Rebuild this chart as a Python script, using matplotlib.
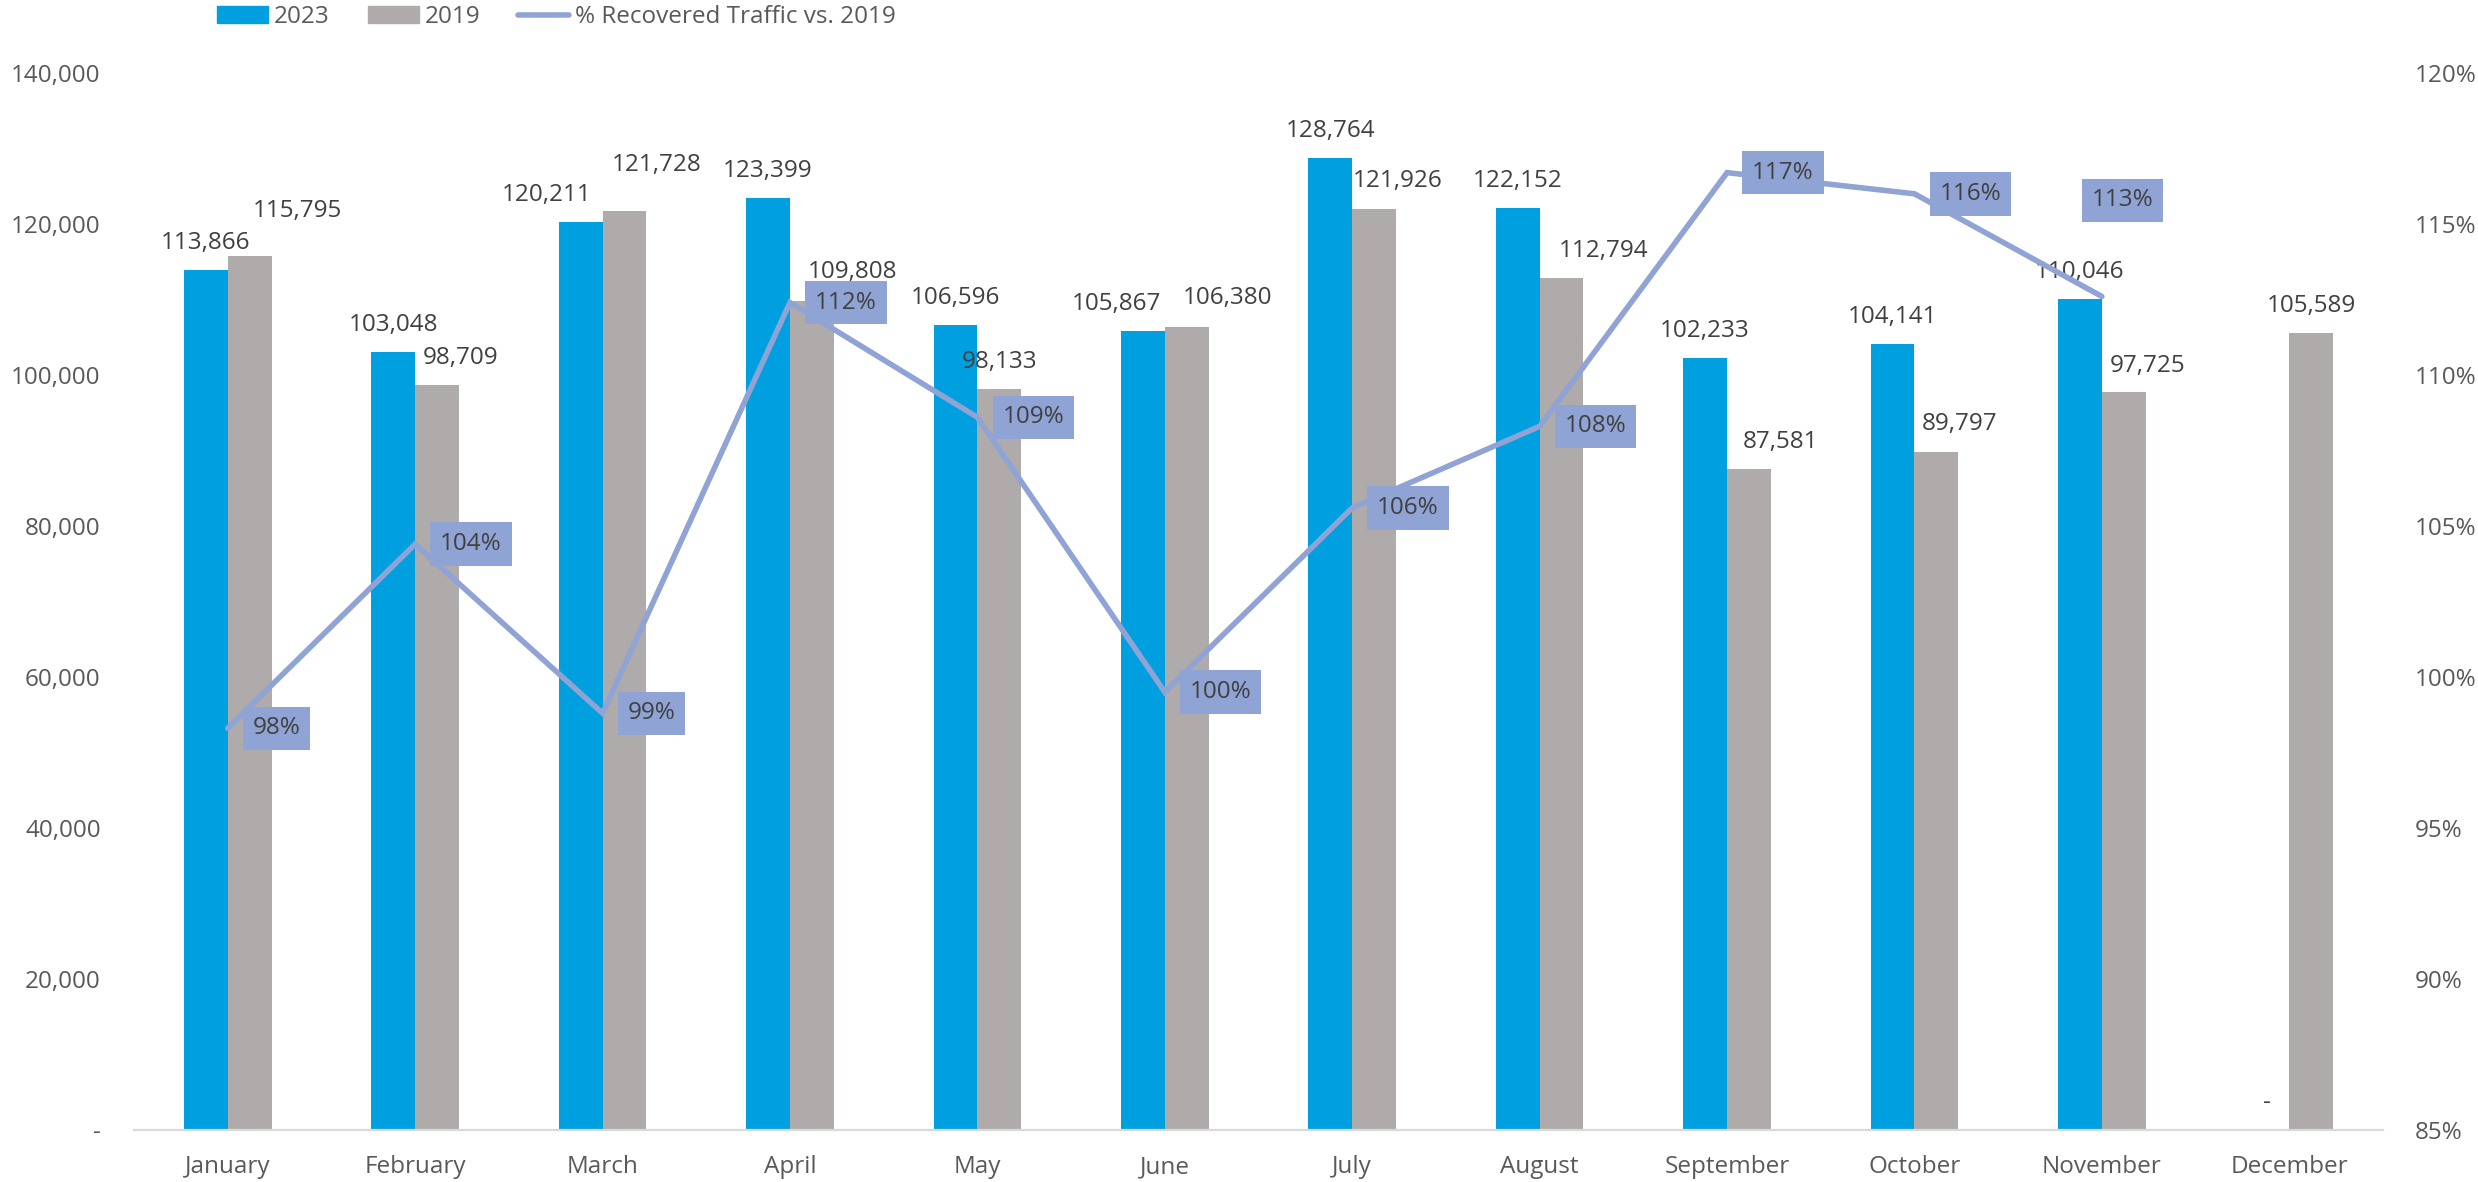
import matplotlib
matplotlib.use("Agg")
import matplotlib.pyplot as plt
from matplotlib.patches import Patch
from matplotlib.lines import Line2D

# ---------------------------
# data
# ---------------------------
months = ["January", "February", "March", "April", "May", "June", "July",
          "August", "September", "October", "November", "December"]
traffic_2023 = [113866, 103048, 120211, 123399, 106596, 105867, 128764,
                122152, 102233, 104141, 110046, 0]
traffic_2019 = [115795, 98709, 121728, 109808, 98133, 106380, 121926,
                112794, 87581, 89797, 97725, 105589]
recovered = [0.983, 1.044, 0.988, 1.124, 1.086, 0.995, 1.056, 1.083,
             1.167, 1.160, 1.126]
left_ticks = [0, 20000, 40000, 60000, 80000, 100000, 120000, 140000]
right_ticks = [0.85, 0.90, 0.95, 1.00, 1.05, 1.10, 1.15, 1.20]

# label nudges (pixels) - hand placed in the original
blue_dx = [0, 0, -34, 0, 0, -26, 0, 0, 0, 0, 0, 0]
gray_dx = [48, 24, 32, 41, 0, 41, 24, 42, 32, 23, 24, 0]
gray_dy = [45, 27, 46, 29, 27, 29, 28, 27, 27, 28, 26, 27]

C_BLUE = "#009FDF"
C_GRAY = "#AFABAB"
C_LINE = "#8FA3D4"
C_TXT = "#404040"
C_TICK = "#595959"

plt.rcParams["font.family"] = ["Open Sans", "DejaVu Sans"]
FS = 17.5

fig = plt.figure(figsize=(24.78, 11.82), dpi=100)
ax = fig.add_axes([134 / 2478, 1 - 1130 / 1182, (2383 - 134) / 2478, (1130 - 73) / 1182])

x = list(range(len(months)))
w = 0.234
xb = [i - w / 2 for i in x]
xg = [i + w / 2 for i in x]
ax.bar(xb, traffic_2023, w, color=C_BLUE, zorder=2)
ax.bar(xg, traffic_2019, w, color=C_GRAY, zorder=2)

ax.set_xlim(-0.5, 11.5)
ax.set_ylim(0, 140000)
ax.set_yticks(left_ticks)
ax.set_yticklabels(["-" if t == 0 else f"{t:,}" for t in left_ticks])
ax.set_xticks(x)
ax.set_xticklabels(months)
ax.tick_params(axis="y", length=0, pad=24, labelsize=FS, labelcolor=C_TICK)
ax.tick_params(axis="x", length=0, pad=18, labelsize=FS, labelcolor=C_TICK)
for s in ["top", "left", "right"]:
    ax.spines[s].set_visible(False)
ax.spines["bottom"].set_color("#D9D9D9")
ax.spines["bottom"].set_linewidth(1.6)

for i in x:
    v = traffic_2023[i]
    ax.annotate("-" if v == 0 else f"{v:,}", (xb[i], v), xytext=(blue_dx[i], 27),
                textcoords="offset pixels", ha="center", va="center",
                fontsize=FS, color=C_TXT, zorder=5)
    v = traffic_2019[i]
    ax.annotate(f"{v:,}", (xg[i], v), xytext=(gray_dx[i], gray_dy[i]),
                textcoords="offset pixels", ha="center", va="center",
                fontsize=FS, color=C_TXT, zorder=5)

# right axis: recovery line
ax2 = ax.twinx()
ax2.set_ylim(0.85, 1.20)
ax2.set_yticks(right_ticks)
ax2.set_yticklabels([f"{round(t * 100)}%" for t in right_ticks])
ax2.tick_params(axis="y", length=0, pad=23, labelsize=FS, labelcolor=C_TICK)
for s in ax2.spines.values():
    s.set_visible(False)
lx = x[:len(recovered)]
ax2.plot(lx, recovered, color=C_LINE, lw=4, solid_capstyle="round",
         solid_joinstyle="miter", zorder=3)

box = dict(boxstyle="square,pad=0.4", fc=C_LINE, ec="none")
for i, v in enumerate(recovered):
    if i == len(recovered) - 1:
        off = (-10, 96)
    else:
        off = (25, 0)
    ax2.annotate(f"{v * 100:.0f}%", (lx[i], v), xytext=off, textcoords="offset pixels",
                 ha="left", va="center", fontsize=FS, color=C_TXT, bbox=box, zorder=6)

handles = [Patch(color=C_BLUE), Patch(color=C_GRAY),
           Line2D([], [], color=C_LINE, lw=4, solid_capstyle="round")]
fig.legend(handles, ["2023", "2019", "% Recovered Traffic vs. 2019"],
           loc="center left", bbox_to_anchor=(217 / 2478, 1 - 17 / 1182),
           ncol=3, frameon=False, fontsize=FS, labelcolor=C_TICK,
           handlelength=2.1, handleheight=0.65, handletextpad=0.25,
           columnspacing=1.55, borderpad=0, borderaxespad=0)

fig.savefig("out.png", dpi=100)
